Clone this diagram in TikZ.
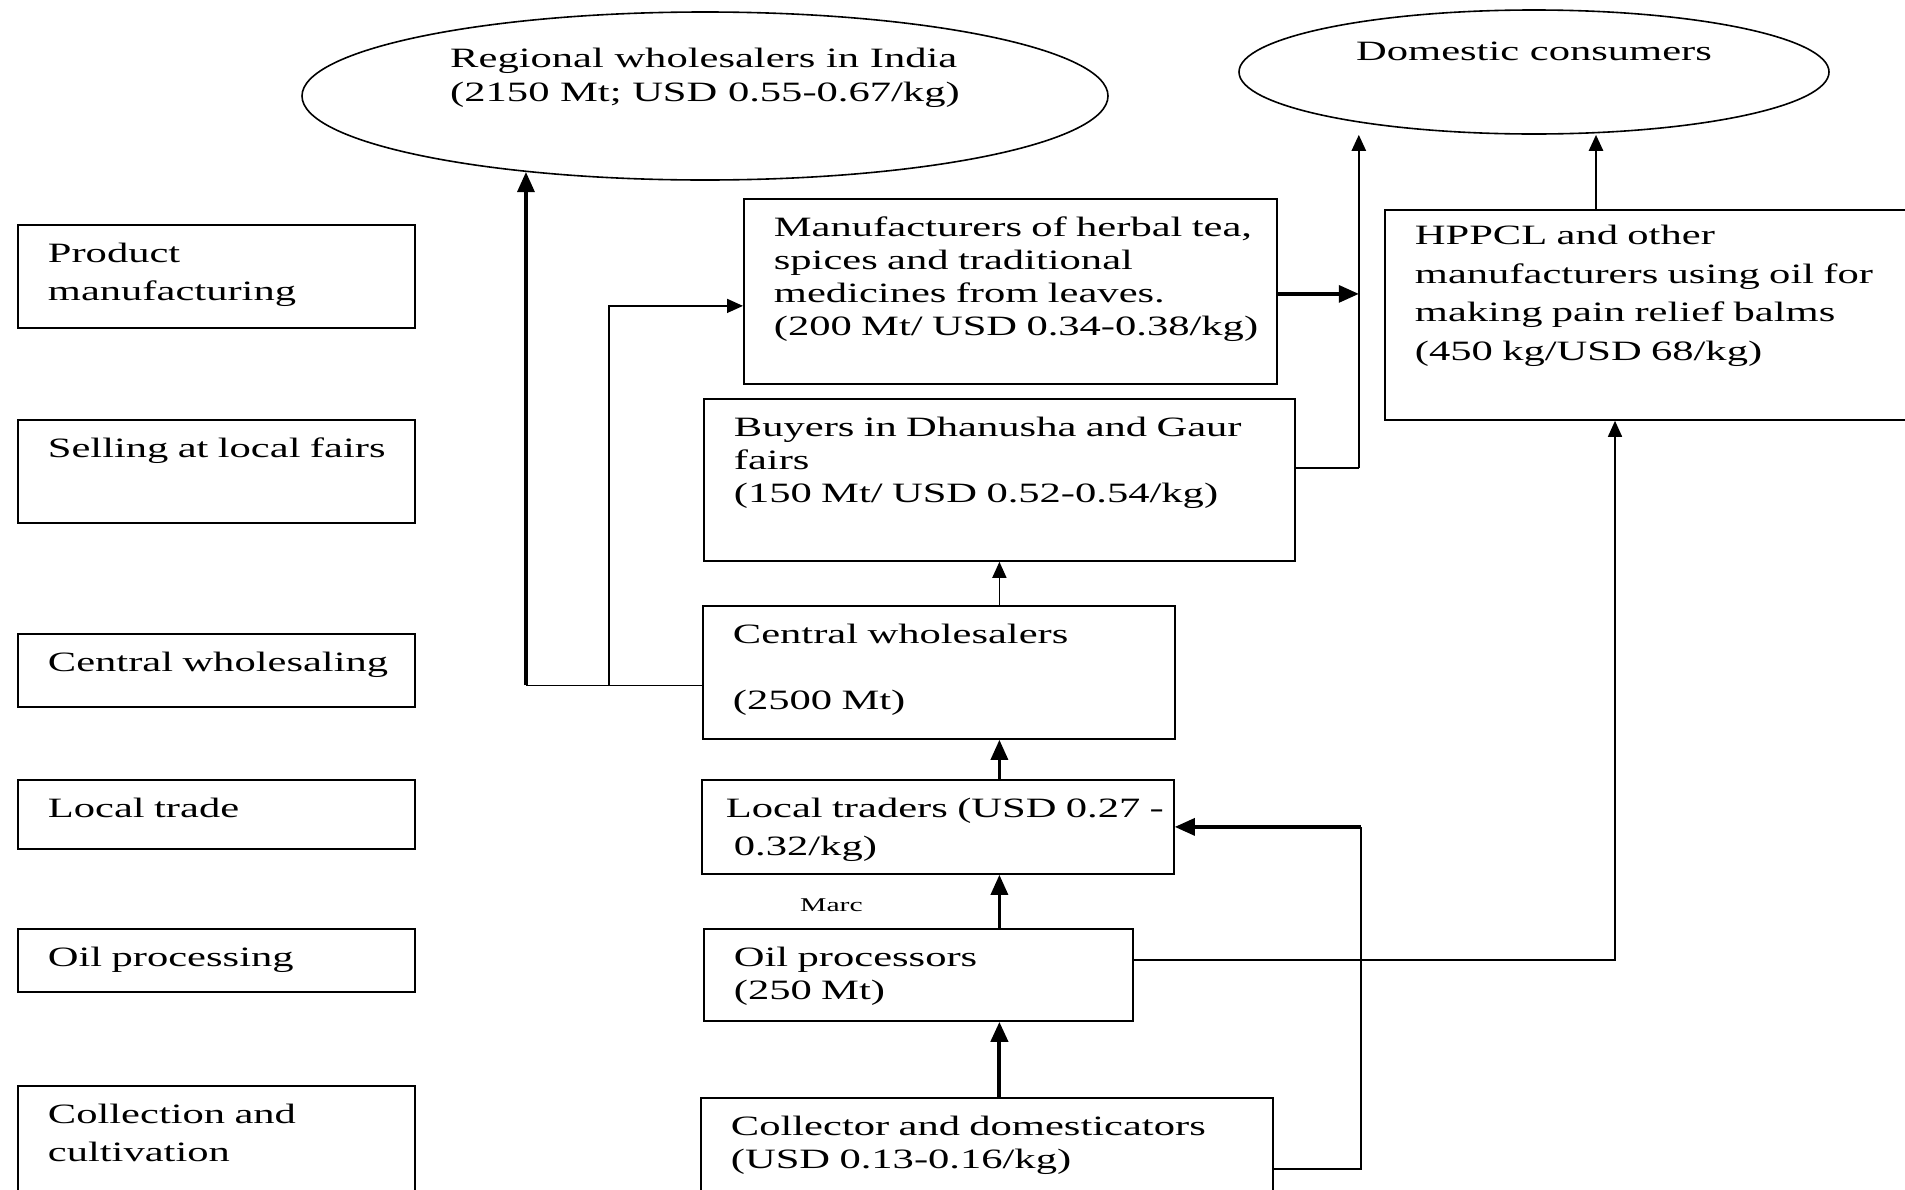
\documentclass[tikz,border=0pt]{standalone}
\usepackage{fontspec}
\setmainfont{Liberation Serif}[FakeStretch=1.52]
\usetikzlibrary{arrows.meta, shapes.geometric}
\tikzset{
  > = {Triangle[length = 16pt, width = 14pt]},
  box/.style 2 args = {draw, line width = 1.8pt, anchor = north west,
    inner xsep = 0pt, inner ysep = 15pt, text width = #1,
    text height = 23pt, text depth = #2, align = left,
    execute at begin node = {\leftskip=30pt}},
  wide/.style = {font = \fontsize{28}{38}\selectfont},
  market/.style = {draw, ellipse, line width = 1.6pt, inner sep = 0pt},
  flow/.style = {->, line width = 1.6pt},
  bigflow/.style = {-{Triangle[length = 20pt, width = 17pt]}, line width = 3.2pt},
  link/.style = {line width = 1.6pt}
}

\begin{document}
\begin{tikzpicture}[x = 1pt, y = -1pt, font = \fontsize{28}{33}\selectfont]

\useasboundingbox (0,0) rectangle (1905,1189);

% stages
\node [box = {397pt}{50pt}, wide] (pm) at (17,224) {Product\\manufacturing};
\node [box = {397pt}{50pt}] (slf) at (17,419) {Selling at local fairs};
\node [box = {397pt}{20pt}] (cwg) at (17,633) {Central wholesaling};
\node [box = {397pt}{16pt}] (ltd) at (17,779) {Local trade};
\node [box = {397pt}{10pt}] (opg) at (17,928) {Oil processing};
\node [box = {397pt}{77pt}, wide] (ccl) at (17,1085) {Collection and\\cultivation};

% actors
\node [market, minimum width = 806pt, minimum height = 168pt,
  label = {[name = rwtext, anchor = north, yshift = -33pt, align = left,
    font = \fontsize{28}{34}\selectfont]north:Regional wholesalers in India\\(2150 Mt; USD 0.55-0.67/kg)}]
  (rw) at (705,96) {};
\node [market, minimum width = 590pt, minimum height = 124pt,
  label = {[name = dctext, anchor = north, yshift = -29pt]north:Domestic consumers}]
  (dc) at (1534,72) {};

\node [box = {533pt}{132pt}] (mfr) at (743,198)
  {Manufacturers of herbal tea,\\spices and traditional\\medicines from leaves.\\(200 Mt/ USD 0.34-0.38/kg)};
\node [box = {560pt}{163pt}, inner ysep = 12pt, font = \fontsize{28}{38.5}\selectfont] (hpp) at (1384,209)
  {HPPCL and other\\manufacturers using oil for\\making pain relief balms\\(450 kg/USD 68/kg)};
\node [box = {591pt}{109pt}] (buy) at (703,398)
  {Buyers in Dhanusha and Gaur\\fairs\\(150 Mt/ USD 0.52-0.54/kg)};
\node [box = {472pt}{80pt}] (cw) at (702,605) {Central wholesalers\\[33pt](2500 Mt)};
\node [box = {472pt}{41pt}, wide, execute at begin node = {\leftskip=24pt}] (lt) at (701,779)
  {Local traders (USD 0.27~-\\\hspace*{8pt}0.32/kg)};
\node [box = {429pt}{39pt}] (op) at (703,928) {Oil processors\\(250 Mt)};
\node [box = {572pt}{77pt}] (col) at (700,1097) {Collector and domesticators\\(USD 0.13-0.16/kg)};

\node [anchor = base west, inner sep = 0pt, font = \fontsize{19.5}{22}\selectfont] (marc) at (800,911) {Marc};

% connectors
\coordinate (cwout) at ([yshift = -13pt]cw.west);
\coordinate (elbow) at (cwout -| rw.203);
\coordinate (fork) at ([xshift = -93pt]cwout);
\coordinate (mfrin) at ([yshift = -14.5pt]mfr.west);
\coordinate (mfrout) at ([yshift = -2.5pt]mfr.east);
\coordinate (buyout) at ([yshift = 12pt]buy.east);
\coordinate (riser) at ([xshift = 63pt]buyout);
\coordinate (balm) at ([xshift = 212pt]hpp.north west);
\coordinate (opout) at ([yshift = 15pt]op.east);
\coordinate (oilin) at ([xshift = 231pt]hpp.south west);
\coordinate (colout) at ([yshift = -6pt]col.east);
\coordinate (tap) at ([xshift = 186pt]lt.east);

\draw [link] (cwout) -- (elbow);
\draw [bigflow] (elbow) -- (rw.203);
\draw [flow] (fork) |- (mfrin);
\draw [bigflow] (mfrout) -- (mfrout -| riser);
\draw [link, line width = 2pt] (buyout) -- (riser);
\draw [flow, line width = 2.4pt] (riser) -- (riser |- dc.south);
\draw [flow, line width = 2.4pt] (balm) -- (balm |- dc.south);
\draw [flow] (opout) -| (oilin);
\draw [flow] (cw.north -| buy.south) -- (buy.south);
\draw [bigflow] (lt.north -| buy.south) -- (cw.south -| buy.south);
\draw [bigflow] (op.north -| buy.south) -- (lt.south -| buy.south);
\draw [bigflow, line width = 4pt] (col.north -| buy.south) -- (op.south -| buy.south);
\draw [link] (colout) -| (tap);
\draw [bigflow] (tap) -- (lt.east);

\end{tikzpicture}
\end{document}
